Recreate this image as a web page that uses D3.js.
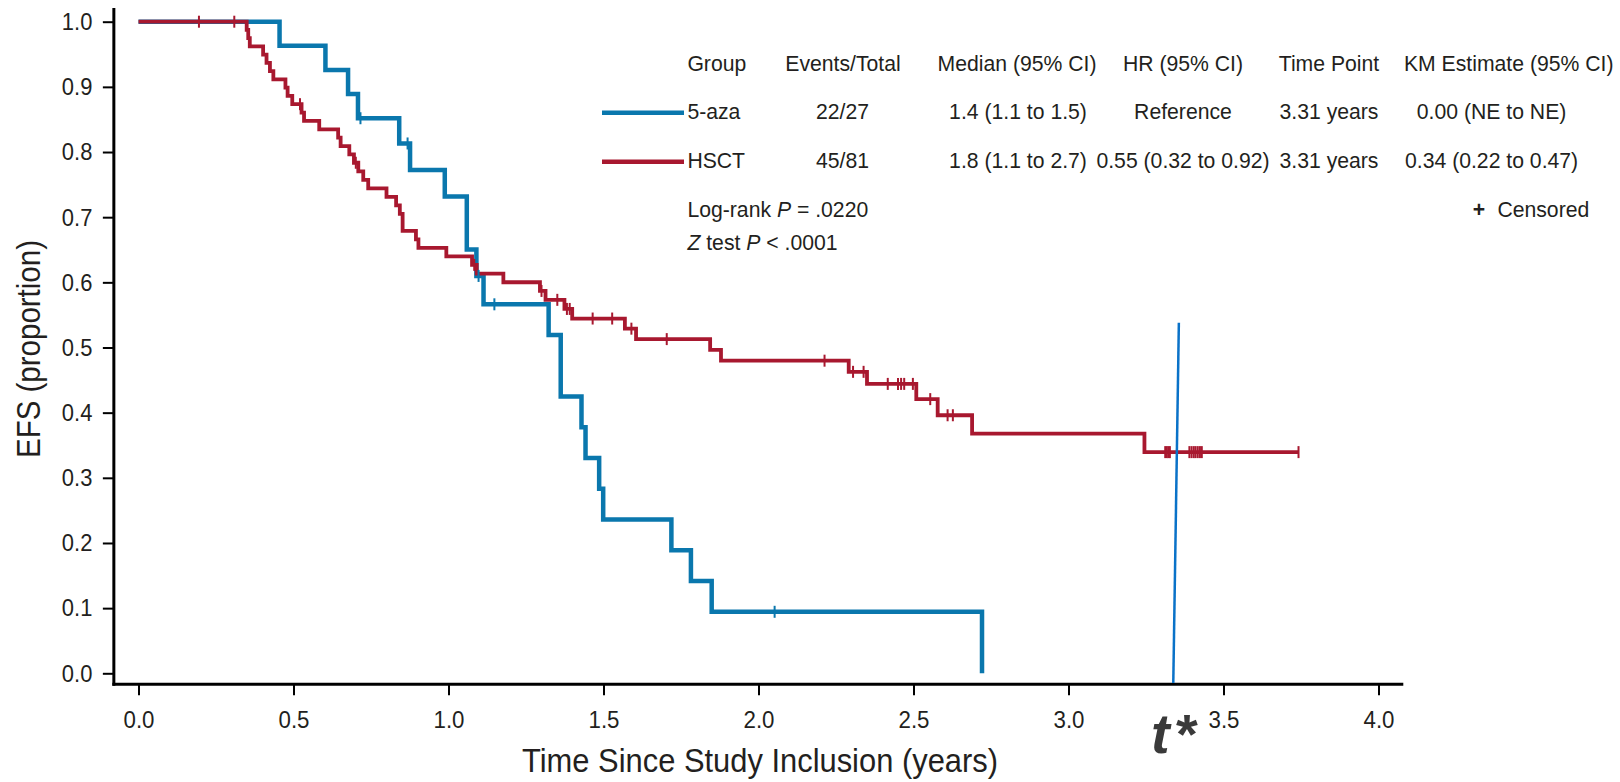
<!DOCTYPE html>
<html>
<head>
<meta charset="utf-8">
<script src="https://cdn.jsdelivr.net/npm/d3@7"></script>
<style>
  html, body { margin: 0; padding: 0; background: #ffffff; }
  svg { display: block; }
  text { font-family: "Liberation Sans", Arial, Helvetica, sans-serif; fill: #231f20; }
</style>
</head>
<body>
<svg id="chart" width="1620" height="782"></svg>
<script>
// ---------------- DATA ----------------
const groups = ["5-aza", "HSCT"];
const groupColors = ["#0a77ad", "#a8182f"];

// 5-aza: event times (years) and censoring times
const azaEvents = [0.455, 0.603, 0.676, 0.708, 0.841, 0.876, 0.988, 1.059, 1.059, 1.090, 1.113,
  1.323, 1.362, 1.362, 1.429, 1.442, 1.486, 1.499, 1.719, 1.782, 1.849, 2.721];
const azaCensored = [0.716, 0.868, 1.097, 1.148, 2.052];

// HSCT: event times (years) and censoring times
const hsctEvents = [0.349, 0.354, 0.359, 0.402, 0.413, 0.424, 0.435, 0.474, 0.481, 0.496,
  0.526, 0.534, 0.583, 0.644, 0.652, 0.680, 0.695,
  0.709, 0.725, 0.741, 0.800, 0.831, 0.843, 0.852, 0.852, 0.895, 0.903, 0.993, 1.076,
  1.091, 1.177, 1.295, 1.313, 1.374, 1.399, 1.569, 1.605, 1.844, 1.879, 2.291, 2.350,
  2.509, 2.578, 2.689, 3.245];
const hsctCensored = [0.195, 0.309, 0.521, 0.701, 1.083, 1.300, 1.351, 1.382, 1.391, 1.465,
  1.528, 1.590, 1.704, 2.213, 2.305, 2.339, 2.417, 2.450, 2.460, 2.470, 2.498, 2.554,
  2.610, 2.627, 3.312, 3.317, 3.322, 3.327, 3.390, 3.397, 3.404, 3.410, 3.417, 3.424,
  3.430, 3.742];

const xTicks = [0, 0.5, 1.0, 1.5, 2.0, 2.5, 3.0, 3.5, 4.0];
const yTicks = [0, 0.1, 0.2, 0.3, 0.4, 0.5, 0.6, 0.7, 0.8, 0.9, 1.0];
const xTitle = "Time Since Study Inclusion (years)";
const yTitle = "EFS (proportion)";

const tableHeaders = ["Group", "Events/Total", "Median (95% CI)", "HR (95% CI)", "Time Point", "KM Estimate (95% CI)"];
const eventsTotal = ["22/27", "45/81"];
const medians = ["1.4 (1.1 to 1.5)", "1.8 (1.1 to 2.7)"];
const hazardRatios = ["Reference", "0.55 (0.32 to 0.92)"];
const timePoints = ["3.31 years", "3.31 years"];
const kmEstimates = ["0.00 (NE to NE)", "0.34 (0.22 to 0.47)"];

// annotation: t* marker line (time, proportion) endpoints
const tStarLine = [[3.338, -0.015], [3.356, 0.538]];

// ---------------- Kaplan-Meier ----------------
function kaplanMeier(events, censored) {
  const items = events.map(t => ({t, e: 1})).concat(censored.map(t => ({t, e: 0})))
    .sort((a, b) => a.t - b.t || b.e - a.e);
  let n = items.length, S = 1;
  const steps = [[0, 1]], marks = [];
  let lastT = 0;
  for (const it of items) {
    if (it.e) { S = S * (n - 1) / n; steps.push([it.t, S]); }
    else { marks.push([it.t, S]); }
    lastT = it.t;
    n--;
  }
  if (steps[steps.length - 1][0] < lastT) steps.push([lastT, S]);
  return {steps, marks};
}

const kmAza = kaplanMeier(azaEvents, azaCensored);
const kmHsct = kaplanMeier(hsctEvents, hsctCensored);

// ---------------- DRAW ----------------
const svg = d3.select("#chart");
const x = d3.scaleLinear().domain([0, 4]).range([138.5, 1378.5]);
const y = d3.scaleLinear().domain([0, 1]).range([673.3, 21.7]);

const axisX0 = x(-0.0795);   // y-axis position
const axisY0 = y(-0.0168);   // x-axis position

// axes lines
svg.append("line").attr("x1", axisX0).attr("x2", axisX0)
  .attr("y1", y(1.0211)).attr("y2", axisY0 + 1.5)
  .attr("stroke", "#000").attr("stroke-width", 3);
svg.append("line").attr("x1", axisX0 - 1.5).attr("x2", x(4.08))
  .attr("y1", axisY0).attr("y2", axisY0)
  .attr("stroke", "#000").attr("stroke-width", 3);

// x axis ticks
const gx = svg.append("g").attr("transform", `translate(0,${axisY0})`)
  .call(d3.axisBottom(x).tickValues(xTicks).tickFormat(d3.format(".1f"))
    .tickSize(11).tickPadding(15.5));
gx.select(".domain").remove();
gx.selectAll(".tick line").attr("stroke", "#000").attr("stroke-width", 2);
gx.selectAll(".tick text").attr("font-size", 24).attr("fill", "#231f20")
  .attr("font-family", "Liberation Sans, Arial, sans-serif")
  .attr("textLength", 31).attr("lengthAdjust", "spacingAndGlyphs");

// y axis ticks
const gy = svg.append("g").attr("transform", `translate(${axisX0},0)`)
  .call(d3.axisLeft(y).tickValues(yTicks).tickFormat(d3.format(".1f"))
    .tickSize(11).tickPadding(10.5));
gy.select(".domain").remove();
gy.selectAll(".tick line").attr("stroke", "#000").attr("stroke-width", 2);
gy.selectAll(".tick text").attr("font-size", 24.5).attr("fill", "#231f20")
  .attr("font-family", "Liberation Sans, Arial, sans-serif")
  .attr("textLength", 30.5).attr("lengthAdjust", "spacingAndGlyphs");

// axis titles
svg.append("text").attr("x", 760).attr("y", 771.5).attr("text-anchor", "middle")
  .attr("font-size", 33).attr("textLength", 476).attr("lengthAdjust", "spacingAndGlyphs")
  .text(xTitle);
svg.append("text").attr("transform", "translate(40,349) rotate(-90)").attr("text-anchor", "middle")
  .attr("font-size", 33).attr("textLength", 218).attr("lengthAdjust", "spacingAndGlyphs")
  .text(yTitle);

// curves
const line = d3.line().x(d => x(d[0])).y(d => y(d[1])).curve(d3.curveStepAfter);
const series = [
  {km: kmAza, color: groupColors[0], width: 4.5},
  {km: kmHsct, color: groupColors[1], width: 3.8}
];
series.forEach(s => {
  svg.append("path").datum(s.km.steps).attr("d", line)
    .attr("fill", "none").attr("stroke", s.color).attr("stroke-width", s.width)
    .attr("stroke-linejoin", "miter").attr("stroke-linecap", "butt");
});
series.forEach(s => {
  svg.append("g").selectAll("line").data(s.km.marks).join("line")
    .attr("x1", d => x(d[0])).attr("x2", d => x(d[0]))
    .attr("y1", d => y(d[1]) - 6).attr("y2", d => y(d[1]) + 6)
    .attr("stroke", s.color).attr("stroke-width", 2);
});

// t* annotation line
svg.append("line")
  .attr("x1", x(tStarLine[0][0])).attr("y1", y(tStarLine[0][1]))
  .attr("x2", x(tStarLine[1][0])).attr("y2", y(tStarLine[1][1]))
  .attr("stroke", "#0a72c8").attr("stroke-width", 2.5);
const tStar = svg.append("text").attr("x", 1151).attr("y", 753)
  .attr("font-family", "Open Sans, DejaVu Sans, sans-serif")
  .attr("font-style", "italic").attr("font-weight", 600).attr("font-size", 56)
  .style("fill", "#3a3a3a");
tStar.append("tspan").text("t");
tStar.append("tspan").attr("dx", 4).text("*");

// ---------------- TABLE / LEGEND ----------------
const tbl = svg.append("g").attr("font-size", 21.2);
const colX = [687.4, 843, 1017, 1183, 1329, 1508.7];
const colAnchor = ["start", "middle", "middle", "middle", "middle", "middle"];
const headerY = 71, rowY = [119.3, 168.3];
tableHeaders.forEach((h, i) => {
  tbl.append("text").attr("x", colX[i]).attr("y", headerY).attr("text-anchor", colAnchor[i]).text(h);
});
const rowCols = [groups, eventsTotal, medians, hazardRatios, timePoints, kmEstimates];
const rowColX = [687.4, 842.5, 1018, 1183, 1329, 1491.6];
groups.forEach((g, r) => {
  tbl.append("line").attr("x1", 602).attr("x2", 684)
    .attr("y1", rowY[r] - 6.5).attr("y2", rowY[r] - 6.5)
    .attr("stroke", groupColors[r]).attr("stroke-width", 4.5);
  rowCols.forEach((col, i) => {
    tbl.append("text").attr("x", rowColX[i]).attr("y", rowY[r])
      .attr("text-anchor", i === 0 ? "start" : "middle").text(col[r]);
  });
});
const lr = tbl.append("text").attr("x", 687.4).attr("y", 217.3);
lr.append("tspan").text("Log-rank ");
lr.append("tspan").attr("font-style", "italic").text("P");
lr.append("tspan").text(" = .0220");
const zt = tbl.append("text").attr("x", 687.4).attr("y", 250);
zt.append("tspan").attr("font-style", "italic").text("Z");
zt.append("tspan").text(" test ");
zt.append("tspan").attr("font-style", "italic").text("P");
zt.append("tspan").text(" < .0001");
tbl.append("text").attr("x", 1479).attr("y", 217).attr("text-anchor", "middle")
  .attr("font-weight", "bold").text("+");
tbl.append("text").attr("x", 1497.4).attr("y", 217).text("Censored");
</script>
</body>
</html>
